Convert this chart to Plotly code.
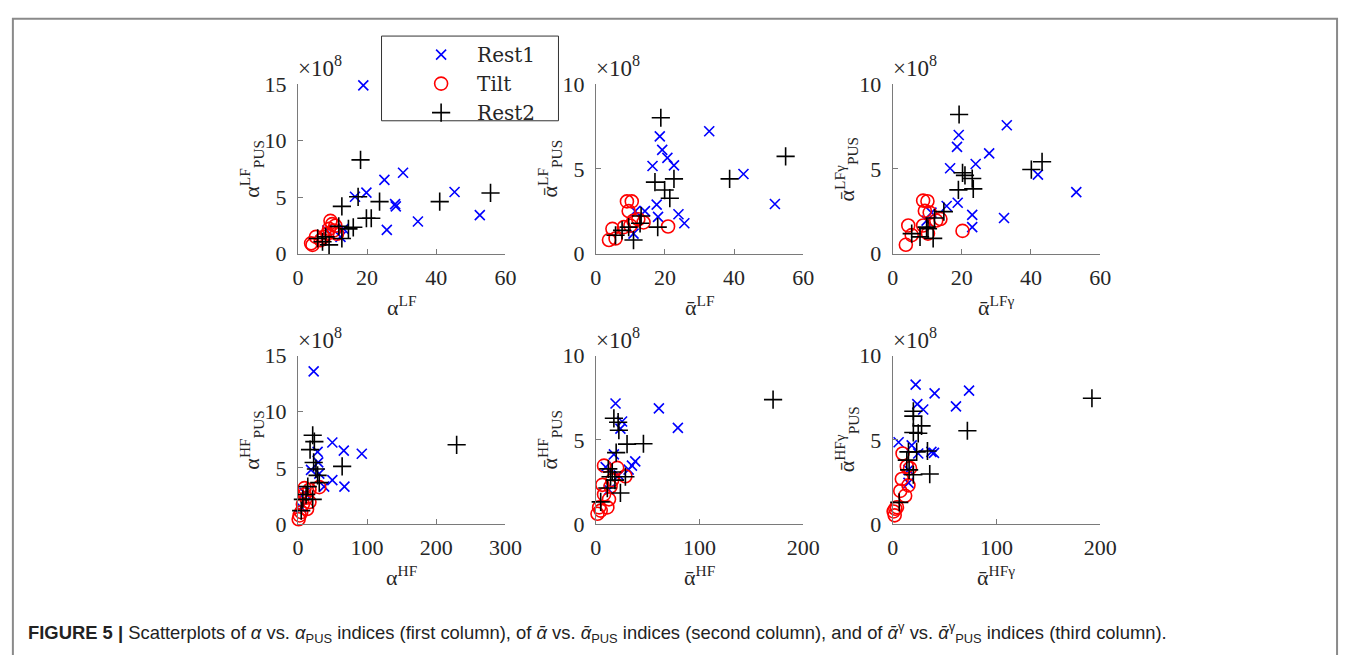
import plotly.graph_objects as go

# ---------------- data (y values in units of 1e8) ----------------
p1_rest1_x = [18.9, 30.4, 25.0, 19.8, 16.5, 45.3, 28.1, 28.3, 34.7, 52.6, 25.7, 13.2, 8.5, 12.3]
p1_rest1_y = [14.9, 7.16, 6.53, 5.40, 5.03, 5.45, 4.38, 4.18, 2.84, 3.41, 2.10, 2.19, 2.05, 1.48]
p1_tilt_x = [4.2, 5.2, 9.4, 9.9, 9.0, 10.4, 11.3, 7.5, 6.6, 10.8, 8.5, 3.8]
p1_tilt_y = [0.77, 1.48, 2.90, 2.61, 2.19, 2.05, 1.76, 1.48, 1.19, 2.47, 1.76, 0.91]
p1_rest2_x = [18.1, 17.4, 23.6, 41.0, 55.7, 12.7, 19.8, 21.2, 16.0, 11.8, 14.6, 12.7, 5.7, 7.1, 9.0, 8.0]
p1_rest2_y = [8.30, 5.03, 4.60, 4.60, 5.37, 4.18, 3.13, 3.13, 2.33, 2.41, 2.19, 1.34, 1.34, 1.05, 0.77, 1.48]

p2_rest1_x = [18.5, 19.2, 20.7, 22.6, 16.4, 32.8, 42.7, 51.8, 17.6, 14.2, 23.9, 25.6, 18.0, 11.4, 10.9]
p2_rest1_y = [6.92, 6.12, 5.65, 5.21, 5.17, 7.22, 4.70, 2.93, 2.89, 2.51, 2.32, 1.79, 2.17, 2.51, 1.18]
p2_tilt_x = [9.0, 10.4, 9.5, 10.9, 13.8, 12.3, 20.9, 4.8, 3.8, 5.7, 8.1, 10.0]
p2_tilt_y = [3.08, 3.08, 2.51, 1.94, 1.84, 2.03, 1.60, 1.46, 0.80, 0.89, 1.56, 1.65]
p2_rest2_x = [18.8, 54.9, 38.7, 22.6, 17.1, 19.9, 21.4, 17.9, 13.1, 12.8, 10.9, 9.5, 5.7, 7.6]
p2_rest2_y = [8.02, 5.74, 4.41, 4.41, 4.22, 3.75, 3.27, 1.56, 2.22, 1.79, 0.80, 1.56, 1.08, 1.37]

p3_rest1_x = [33.0, 19.1, 18.6, 27.9, 24.0, 16.6, 42.0, 53.1, 18.8, 15.6, 23.0, 23.0, 32.2, 11.2, 9.8]
p3_rest1_y = [7.58, 7.00, 6.30, 5.92, 5.29, 5.04, 4.66, 3.63, 3.00, 2.81, 2.29, 1.56, 2.10, 2.42, 1.95]
p3_tilt_x = [8.8, 10.05, 9.3, 10.7, 13.8, 12.6, 20.2, 4.5, 3.8, 5.5, 8.8, 10.2]
p3_tilt_y = [3.13, 3.09, 2.52, 2.42, 2.04, 1.95, 1.34, 1.66, 0.52, 1.09, 1.66, 1.18]
p3_rest2_x = [19.2, 43.2, 40.1, 20.2, 20.9, 23.0, 19.0, 23.3, 14.8, 12.1, 9.8, 11.7, 5.5, 7.9, 10.2]
p3_rest2_y = [8.21, 5.42, 4.96, 4.77, 4.62, 4.43, 3.76, 3.82, 2.48, 2.10, 1.56, 0.90, 1.18, 0.99, 1.47]

p4_rest1_x = [22.7, 49.7, 66.3, 92.3, 28.4, 29.3, 18.9, 30.8, 49.7, 67.2, 37.9, 9.5, 4.7]
p4_rest1_y = [13.6, 7.26, 6.54, 6.26, 6.43, 5.49, 4.83, 4.49, 3.91, 3.34, 3.34, 2.77, 1.49]
p4_tilt_x = [9.5, 30.8, 16.6, 11.8, 7.1, 13.2, 2.4, 1.0, 4.7, 16.6, 9.5]
p4_tilt_y = [3.20, 3.29, 3.06, 2.34, 1.77, 1.34, 0.77, 0.43, 1.06, 1.97, 2.63]
p4_rest2_x = [229.5, 21.3, 23.7, 17.5, 22.7, 26.0, 63.9, 28.4, 30.8, 14.2, 11.8, 21.3, 7.1, 4.7]
p4_rest2_y = [7.06, 7.91, 7.34, 6.63, 5.49, 4.91, 5.14, 4.34, 3.69, 3.34, 2.63, 2.20, 2.20, 1.20]

p5_rest1_x = [19.0, 60.8, 79.1, 25.3, 23.7, 17.4, 38.0, 34.8, 31.6, 9.5, 22.2, 12.7]
p5_rest1_y = [7.16, 6.87, 5.71, 6.09, 5.67, 4.14, 3.72, 3.47, 3.23, 3.38, 2.90, 2.04]
p5_tilt_x = [7.9, 20.6, 28.5, 6.3, 14.2, 7.9, 12.7, 3.2, 1.6, 4.7, 11.1, 15.8]
p5_tilt_y = [3.47, 3.34, 2.84, 2.33, 2.23, 1.76, 1.47, 0.99, 0.61, 0.80, 0.99, 2.61]
p5_rest2_x = [170.9, 17.4, 21.5, 22.2, 30.1, 45.9, 19.6, 12.0, 15.8, 14.2, 18.4, 28.5, 23.7, 11.1, 4.7]
p5_rest2_y = [7.39, 6.28, 6.05, 5.57, 4.75, 4.77, 4.24, 3.28, 3.09, 2.81, 2.61, 2.81, 1.85, 2.14, 1.32]

p6_rest1_x = [22.1, 40.4, 73.6, 61.0, 23.7, 29.4, 5.7, 18.3, 37.3, 39.8, 24.6, 15.2, 15.2]
p6_rest1_y = [8.28, 7.76, 7.92, 6.99, 7.12, 6.80, 4.86, 4.67, 4.29, 4.23, 4.19, 2.45, 3.22]
p6_tilt_x = [9.5, 13.6, 16.7, 8.8, 15.2, 7.3, 12.0, 2.5, 1.9, 4.1, 0.9]
p6_tilt_y = [4.19, 3.42, 3.32, 2.68, 2.30, 1.97, 1.68, 0.91, 0.52, 1.00, 0.75]
p6_rest2_x = [192.1, 72.0, 19.9, 19.9, 27.8, 19.9, 24.6, 15.2, 23.1, 33.5, 13.6, 15.8, 35.7, 19.9, 6.3]
p6_rest2_y = [7.47, 5.54, 6.70, 6.41, 5.83, 5.44, 5.39, 4.29, 4.29, 4.34, 3.80, 3.22, 2.97, 2.93, 1.29]

series_names = ["Rest1", "Tilt", "Rest2"]
x_titles = ["α<sup>LF</sup>", "ᾱ<sup>LF</sup>", "ᾱ<sup>LFγ</sup>",
            "α<sup>HF</sup>", "ᾱ<sup>HF</sup>", "ᾱ<sup>HFγ</sup>"]
y_titles = ["α<sup>LF</sup><sub>PUS</sub>", "ᾱ<sup>LF</sup><sub>PUS</sub>", "ᾱ<sup>LFγ</sup><sub>PUS</sub>",
            "α<sup>HF</sup><sub>PUS</sub>", "ᾱ<sup>HF</sup><sub>PUS</sub>", "ᾱ<sup>HFγ</sup><sub>PUS</sub>"]
x_ranges = [[0, 60], [0, 60], [0, 60], [0, 300], [0, 200], [0, 200]]
y_ranges = [[0, 15], [0, 10], [0, 10], [0, 15], [0, 10], [0, 10]]
x_dticks = [20, 20, 20, 100, 100, 100]
y_dticks = [5, 5, 5, 5, 5, 5]
exponent_label = "×10<sup>8</sup>"
caption = ("<b>FIGURE 5 |</b> Scatterplots of <i>α</i> vs. <i>α</i><sub>PUS</sub> indices (first column), "
           "of <i>ᾱ</i> vs. <i>ᾱ</i><sub>PUS</sub> indices (second column), and of <i>ᾱ</i><sup>γ</sup> vs. "
           "<i>ᾱ</i><sup>γ</sup><sub>PUS</sub> indices (third column).")

panels = [
    (p1_rest1_x, p1_rest1_y, p1_tilt_x, p1_tilt_y, p1_rest2_x, p1_rest2_y),
    (p2_rest1_x, p2_rest1_y, p2_tilt_x, p2_tilt_y, p2_rest2_x, p2_rest2_y),
    (p3_rest1_x, p3_rest1_y, p3_tilt_x, p3_tilt_y, p3_rest2_x, p3_rest2_y),
    (p4_rest1_x, p4_rest1_y, p4_tilt_x, p4_tilt_y, p4_rest2_x, p4_rest2_y),
    (p5_rest1_x, p5_rest1_y, p5_tilt_x, p5_tilt_y, p5_rest2_x, p5_rest2_y),
    (p6_rest1_x, p6_rest1_y, p6_tilt_x, p6_tilt_y, p6_rest2_x, p6_rest2_y),
]

# ---------------- layout geometry (pixels) ----------------
W, H = 1357, 668
col_px = [(297, 508), (600, 811), (902, 1113)]
row_px = [(75, 251), (357, 532)]
SERIF = "Liberation Serif, Times New Roman, serif"
LEG_SERIF = "DejaVu Serif, Liberation Serif, serif"
AXIS_GRAY = "#7a7a7a"

def px2x(p):
    return p / W

def px2y(p):
    return 1 - p / H

styles = [
    dict(symbol="x-thin-open", size=10, line=dict(color="#0000ff", width=1.6), color="#0000ff"),
    dict(symbol="circle-open", size=13, line=dict(color="#ff0000", width=1.6), color="#ff0000"),
    dict(symbol="cross-thin-open", size=13, line=dict(color="#000000", width=1.6), color="#000000"),
]

fig = go.Figure()
layout = dict(
    width=W, height=H, margin=dict(l=0, r=0, t=0, b=0),
    paper_bgcolor="white", plot_bgcolor="white",
    font=dict(family=SERIF, size=22, color="#262626"),
    showlegend=True,
    legend=dict(x=px2x(406), y=px2y(24), xanchor="left", yanchor="top",
                borderwidth=0, bgcolor="rgba(0,0,0,0)",
                font=dict(family=LEG_SERIF, size=20, color="#262626"),
                itemwidth=62, tracegroupgap=0),
)
annotations = []

for i, data in enumerate(panels):
    r, c = divmod(i, 3)
    ax = "" if i == 0 else str(i + 1)
    x0, x1 = col_px[c]
    yt, yb = row_px[r]
    for k in range(3):
        fig.add_trace(go.Scatter(
            x=data[2 * k], y=data[2 * k + 1], mode="markers", name=series_names[k],
            marker=styles[k], showlegend=(i == 0), cliponaxis=False,
            xaxis="x" + ax, yaxis="y" + ax,
        ))
    common = dict(showline=True, linecolor=AXIS_GRAY, linewidth=1, ticks="inside",
                  ticklen=5, tickcolor=AXIS_GRAY, showgrid=False, zeroline=False,
                  tickfont=dict(family=SERIF, size=22, color="#262626"))
    layout["xaxis" + ax] = dict(domain=[px2x(x0), px2x(x1)], range=x_ranges[i],
                                dtick=x_dticks[i], tick0=0, anchor="y" + ax,
                                ticklabelstandoff=4, **common)
    layout["yaxis" + ax] = dict(domain=[px2y(yb), px2y(yt)], range=y_ranges[i],
                                dtick=y_dticks[i], tick0=0, anchor="x" + ax,
                                ticklabelstandoff=6, **common)
    annotations.append(dict(text=exponent_label, xref="paper", yref="paper",
                            x=px2x(x0 - 2), y=px2y(yt - 1), xanchor="left", yanchor="bottom",
                            showarrow=False, font=dict(family=SERIF, size=23, color="#262626")))
    annotations.append(dict(text=x_titles[i], xref="paper", yref="paper",
                            x=px2x((x0 + x1) / 2), y=px2y(yb + 54), xanchor="center", yanchor="middle",
                            showarrow=False, font=dict(family=SERIF, size=22, color="#262626")))
    annotations.append(dict(text=y_titles[i], xref="paper", yref="paper", textangle=-90,
                            x=px2x(x0 - 47), y=px2y((yt + yb) / 2), xanchor="center", yanchor="middle",
                            showarrow=False, font=dict(family=SERIF, size=22, color="#262626")))

annotations.append(dict(text=caption, xref="paper", yref="paper", x=px2x(20), y=px2y(645),
                        xanchor="left", yanchor="middle", showarrow=False,
                        font=dict(family="Liberation Sans, Arial, sans-serif",
                                  size=18.4, color="#222222")))
layout["annotations"] = annotations
layout["shapes"] = [
    dict(type="path", xref="paper", yref="paper",
         path=f"M {px2x(7)} 0 L {px2x(7)} {px2y(7)} L {px2x(1354)} {px2y(7)} L {px2x(1354)} 0",
         line=dict(color="#8a8a8a", width=2)),
    dict(type="rect", xref="paper", yref="paper", layer="above",
         x0=px2x(382), x1=px2x(562), y0=px2y(113), y1=px2y(25),
         line=dict(color="#333333", width=1), fillcolor="white"),
]
fig.update_layout(**layout)
fig.write_html("out.html")
